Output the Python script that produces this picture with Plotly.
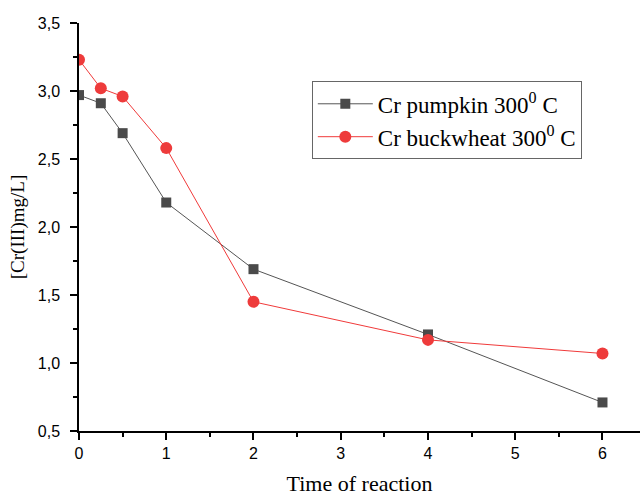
import plotly.graph_objects as go

time = [0, 0.25, 0.5, 1, 2, 4, 6]
pumpkin = [2.97, 2.91, 2.69, 2.18, 1.69, 1.21, 0.71]
buckwheat = [3.23, 3.02, 2.96, 2.58, 1.45, 1.17, 1.07]
names = ["Cr pumpkin 300<sup>0</sup> C", "Cr buckwheat 300<sup>0</sup> C"]

fig = go.Figure()
fig.add_trace(go.Scatter(x=time, y=pumpkin, name=names[0], mode="lines+markers",
                         line=dict(color="#555555", width=1),
                         marker=dict(symbol="square", size=10, color="#4a4a4a")))
fig.add_trace(go.Scatter(x=time, y=buckwheat, name=names[1], mode="lines+markers",
                         line=dict(color="#f03a3a", width=1),
                         marker=dict(symbol="circle", size=12, color="#ee3b3b")))

fig.update_layout(
    width=640, height=496,
    margin=dict(l=79, r=0, t=23, b=65),
    paper_bgcolor="white", plot_bgcolor="white",
    separators=",.",
    showlegend=True,
    legend=dict(x=0.415, y=0.857, xanchor="left", yanchor="top",
                bordercolor="#666666", borderwidth=1, bgcolor="white",
                font=dict(family="Liberation Serif", size=23, color="black"),
                itemwidth=55, tracegroupgap=0),
    xaxis=dict(range=[0, 6.43], tickvals=[0, 1, 2, 3, 4, 5, 6],
               showgrid=False, zeroline=False, showline=True, linecolor="black", linewidth=1.5,
               ticks="outside", ticklen=7, tickwidth=1.5, tickcolor="black",
               minor=dict(tickvals=[0.5, 1.5, 2.5, 3.5, 4.5, 5.5], ticks="outside", ticklen=4, tickwidth=1.5, tickcolor="black"),
               tickfont=dict(family="Liberation Sans", size=16, color="black"),
               title=dict(text="Time of reaction", font=dict(family="Liberation Serif", size=22, color="black"), standoff=15)),
    yaxis=dict(range=[0.5, 3.5], tickvals=[0.5, 1.0, 1.5, 2.0, 2.5, 3.0, 3.5], tickformat=".1f",
               showgrid=False, zeroline=False, showline=True, linecolor="black", linewidth=1.5,
               ticks="outside", ticklen=7, tickwidth=1.5, tickcolor="black", ticklabelstandoff=7,
               minor=dict(tickvals=[0.75, 1.25, 1.75, 2.25, 2.75, 3.25], ticks="outside", ticklen=4, tickwidth=1.5, tickcolor="black"),
               tickfont=dict(family="Liberation Sans", size=16, color="black"),
               title=dict(text="[Cr(III)mg/L]", font=dict(family="Liberation Serif", size=19, color="black"), standoff=8)),
)

fig.write_html("out.html")
